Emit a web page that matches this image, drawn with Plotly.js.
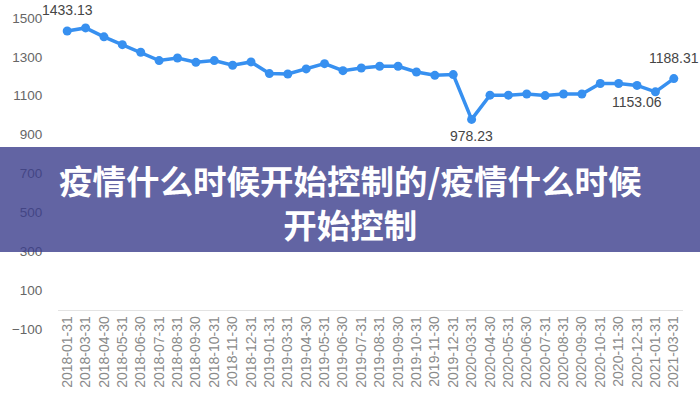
<!DOCTYPE html>
<html>
<head>
<meta charset="utf-8">
<script src="https://cdn.plot.ly/plotly-3.0.1.min.js"></script>
<style>html,body{margin:0;padding:0;background:#fff;}#chart{width:700px;height:400px;}</style>
</head>
<body>
<div id="chart"></div>
<script>
const dates = ["2018-01-31","2018-03-31","2018-04-30","2018-05-31","2018-06-30","2018-07-31","2018-08-31","2018-09-30","2018-10-31","2018-11-30","2018-12-31","2019-01-31","2019-03-31","2019-04-30","2019-05-31","2019-06-30","2019-07-31","2019-08-31","2019-09-30","2019-10-31","2019-11-30","2019-12-31","2020-03-31","2020-04-30","2020-05-31","2020-06-30","2020-07-31","2020-08-31","2020-09-30","2020-10-31","2020-11-30","2020-12-31","2021-01-31","2021-03-31"];
const values = [1433.13,1449,1403,1363,1324,1281,1294,1272,1281,1257,1274,1214,1212,1238,1265,1229,1243,1252,1252,1222,1205,1209,978.23,1103,1103,1109,1101,1109,1109,1163,1163,1153.06,1120,1188.31];
const labelIdx = [0, 22, 31, 33];
const labelPos = ["above", "below", "below", "above"];
const yTicks = [-100,100,300,500,700,900,1100,1300,1500];
const bannerText = "疫情什么时候开始控制的/疫情什么时候<br>开始控制";

const L = 58, R = 17, T = 18, B = 71;
const W = 700, H = 400;
const pw = W - L - R, ph = H - T - B;
const px2x = p => (p - L) / pw;
const py2y = p => (H - B - p) / ph;

const annotations = labelIdx.map((i, k) => ({
  x: dates[i], y: values[i], xref: 'x', yref: 'y',
  text: values[i].toFixed(2), showarrow: false,
  yshift: labelPos[k] === 'above' ? 21 : -17,
  font: {family: 'Liberation Sans, Arial, sans-serif', size: 14, color: '#454545'}
}));
annotations.push({
  x: px2x(350), y: py2y(201), xref: 'paper', yref: 'paper',
  xanchor: 'center', yanchor: 'middle', showarrow: false,
  text: bannerText, align: 'center',
  font: {family: 'Noto Sans CJK SC, sans-serif', size: 33.5, color: '#ffffff', weight: 'bold'}
});

const trace = {
  x: dates, y: values, type: 'scatter', mode: 'lines+markers',
  line: {color: '#3790f0', width: 3.5},
  marker: {color: '#3790f0', size: 9},
  hoverinfo: 'skip'
};

const layout = {
  width: W, height: H,
  margin: {l: L, r: R, t: T, b: B, pad: 0},
  paper_bgcolor: '#ffffff', plot_bgcolor: '#ffffff',
  showlegend: false,
  xaxis: {
    type: 'category', categoryorder: 'array', categoryarray: dates,
    range: [-0.5, dates.length - 0.5], autorange: false,
    anchor: 'free', position: 100 / 1600,
    showline: true, linecolor: '#e3e3e3', linewidth: 1,
    showgrid: false, zeroline: false, ticks: '',
    tickangle: -90, automargin: false,
    tickfont: {family: 'Liberation Sans, Arial, sans-serif', size: 14, color: '#8a8a8a'}
  },
  yaxis: {
    range: [-100, 1500], autorange: false, tickmode: 'array', tickvals: yTicks,
    showgrid: false, zeroline: false, showline: false,
    ticks: 'outside', ticklen: 12, tickcolor: 'rgba(0,0,0,0)', automargin: false,
    tickfont: {family: 'Liberation Sans, Arial, sans-serif', size: 13.5, color: '#666666'}
  },
  shapes: [{
    type: 'rect', xref: 'paper', yref: 'paper', layer: 'above',
    x0: px2x(0), x1: px2x(700), y0: py2y(252), y1: py2y(147),
    fillcolor: 'rgba(59,61,140,0.8)', line: {width: 0}
  }],
  annotations: annotations
};

Plotly.newPlot('chart', [trace], layout, {displayModeBar: false, staticPlot: true});
</script>
</body>
</html>
